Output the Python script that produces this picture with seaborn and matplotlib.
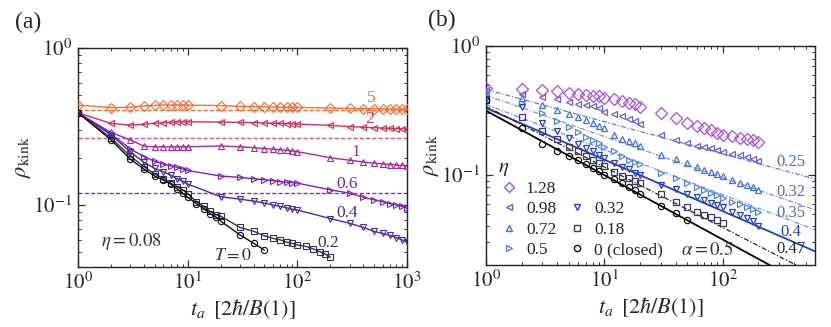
import matplotlib
matplotlib.use("Agg")
import matplotlib.pyplot as plt
import seaborn as sns
import numpy as np
from matplotlib.lines import Line2D
from matplotlib.ticker import LogLocator, NullFormatter, FuncFormatter

# ---------------- panel (a): eta = 0.08, several temperatures ----------------
ta_long = [1, 2, 3, 4, 5, 6, 7, 8, 9, 10, 20, 30, 40, 50, 60, 70, 80, 90, 100,
           200, 300, 400, 500, 600, 700, 800, 900, 1000]
ta_mid = [1, 2, 3, 4, 5, 6, 7, 8, 9, 10, 12, 14, 16, 18, 20, 30, 40, 50, 60, 70,
          80, 90, 100, 120, 140, 160, 180, 200]
ta_short = [1, 2, 3, 4, 5, 6, 7, 8, 9, 10, 12, 14, 16, 18, 20, 30, 40, 50]

rho_T5 = [0.433, 0.418, 0.42, 0.428, 0.432, 0.434, 0.434, 0.434, 0.434, 0.433,
          0.43, 0.425, 0.424, 0.422, 0.421, 0.42, 0.42, 0.419, 0.419,
          0.415, 0.413, 0.411, 0.41, 0.41, 0.409, 0.409, 0.408, 0.408]
rho_T2 = [0.387, 0.331, 0.323, 0.327, 0.332, 0.335, 0.337, 0.338, 0.339, 0.339,
          0.338, 0.336, 0.335, 0.333, 0.332, 0.331, 0.33, 0.329, 0.328,
          0.322, 0.316, 0.313, 0.311, 0.309, 0.308, 0.307, 0.306, 0.305]
rho_T1 = [0.387, 0.29, 0.26, 0.237, 0.235, 0.235, 0.235, 0.235, 0.235, 0.235,
          0.238, 0.235, 0.232, 0.229, 0.227, 0.225, 0.223, 0.221, 0.219,
          0.2, 0.193, 0.188, 0.185, 0.183, 0.181, 0.18, 0.179, 0.178]
rho_T06 = [0.387, 0.283, 0.228, 0.203, 0.19, 0.182, 0.178, 0.174, 0.17, 0.166,
           0.153, 0.15, 0.147, 0.145, 0.143, 0.141, 0.14, 0.139, 0.138,
           0.125, 0.119, 0.112, 0.108, 0.105, 0.102, 0.1, 0.098, 0.0955]
rho_T04 = [0.387, 0.28, 0.218, 0.187, 0.171, 0.163, 0.155, 0.147, 0.142, 0.136,
           0.113, 0.109, 0.106, 0.103, 0.1, 0.098, 0.096, 0.094, 0.093,
           0.082, 0.0765, 0.072, 0.068, 0.066, 0.064, 0.062, 0.06, 0.058]
ta_T02 = [1, 2, 3, 4, 5, 6, 7, 8, 9, 10, 12, 14, 16, 18, 20, 30, 40, 50, 60, 70,
          80, 90, 100, 120, 140, 160, 180, 200]
rho_T02 = [0.387, 0.267, 0.205, 0.175, 0.158, 0.147, 0.138, 0.131, 0.125, 0.118,
           0.105, 0.098, 0.091, 0.087, 0.085, 0.072, 0.068, 0.0637, 0.0613, 0.06,
           0.058, 0.057, 0.0557, 0.0545, 0.0525, 0.0505, 0.0487, 0.0465]
rho_T0 = [0.387, 0.26, 0.196, 0.169, 0.153, 0.144, 0.136, 0.127, 0.119, 0.112,
          0.102, 0.095, 0.088, 0.084, 0.079, 0.0645, 0.057, 0.0517]

T_labels = ["5", "2", "1", "0.6", "0.4", "0.2", r"$T=0$"]
T_colors = ["#ff6a2e", "#dc2d55", "#b0269e", "#7a22c8", "#4a2aa8", "#33335e", "#111111"]
T_markers = ["D", "<", "^", ">", "v", "s", "o"]
T_x = [ta_long, ta_long, ta_long, ta_long, ta_long, ta_T02, ta_short]
T_y = [rho_T5, rho_T2, rho_T1, rho_T06, rho_T04, rho_T02, rho_T0]
# label anchor (data coordinates)
T_label_pos = [(468, 0.478), (460, 0.351), (342, 0.218), (286, 0.137),
               (286, 0.0885), (190, 0.057), (26, 0.048)]

# equilibrium levels (dashed)
eq_levels = [0.402, 0.268, 0.12]
eq_colors = ["#ff6a2e", "#e0558a", "#b0269e"]

# ---------------- panel (b): T = 0, several eta ----------------
rho_e128 = [0.47, 0.462, 0.455, 0.447, 0.43, 0.425, 0.418, 0.412, 0.407, 0.393,
            0.387, 0.372, 0.362, 0.356, 0.338, 0.30, 0.275, 0.254, 0.24, 0.23,
            0.222, 0.211, 0.204, 0.2, 0.195, 0.189, 0.186, 0.181]
rho_e098 = [0.455, 0.425, 0.405, 0.39, 0.37, 0.358, 0.347, 0.34, 0.331, 0.31,
            0.295, 0.284, 0.273, 0.261, 0.247, 0.204, 0.187, 0.176, 0.169, 0.164,
            0.161, 0.157, 0.15, 0.146, 0.142, 0.138, 0.134, 0.129]
rho_e072 = [0.43, 0.393, 0.349, 0.319, 0.297, 0.28, 0.265, 0.253, 0.241, 0.23,
            0.204, 0.19, 0.182, 0.176, 0.168, 0.143, 0.132, 0.123, 0.116, 0.11,
            0.105, 0.102, 0.0988, 0.092, 0.087, 0.083, 0.08, 0.0765]
rho_e05 = [0.41, 0.36, 0.30, 0.262, 0.237, 0.216, 0.198, 0.186, 0.176, 0.166,
           0.152, 0.14, 0.131, 0.126, 0.121, 0.103, 0.094, 0.087, 0.081, 0.077,
           0.073, 0.07, 0.066, 0.062, 0.059, 0.056, 0.054, 0.052]
rho_e032 = [0.39, 0.338, 0.254, 0.219, 0.194, 0.175, 0.161, 0.152, 0.143, 0.135,
            0.124, 0.116, 0.111, 0.104, 0.1, 0.084, 0.078, 0.0715, 0.067, 0.064,
            0.061, 0.058, 0.056, 0.052, 0.049, 0.046, 0.044, 0.0405]
ta_e018 = [1, 2, 3, 4, 5, 6, 7, 8, 9, 10, 12, 14, 16, 18, 20, 30, 40, 50, 60, 70,
           80, 90, 100]
rho_e018 = [0.38, 0.283, 0.219, 0.189, 0.166, 0.152, 0.141, 0.131, 0.124, 0.118,
            0.105, 0.098, 0.094, 0.09, 0.087, 0.0715, 0.062, 0.0565, 0.052, 0.049,
            0.047, 0.0445, 0.042]
rho_e0 = [0.38, 0.23, 0.174, 0.152, 0.14, 0.131, 0.122, 0.113, 0.108, 0.1,
          0.093, 0.0866, 0.081, 0.076, 0.0715, 0.0578, 0.0506, 0.0448]

eta_labels = ["1.28", "0.98", "0.72", "0.5", "0.32", "0.18", "0 (closed)"]
eta_colors = ["#a64df0", "#6a5cf2", "#3f6ff5", "#4c82f7", "#2a3ed6", "#3a3a6a", "#111111"]
eta_markers = ["D", "<", "^", ">", "v", "s", "o"]
eta_x = [ta_mid, ta_mid, ta_mid, ta_mid, ta_mid, ta_e018, ta_short]
eta_y = [rho_e128, rho_e098, rho_e072, rho_e05, rho_e032, rho_e018, rho_e0]

# power-law guides rho = A * t^-alpha
fit_alpha = [0.25, 0.32, 0.35, 0.4, 0.47, 0.5]
fit_amp = [0.46, 0.415, 0.352, 0.33, 0.34, 0.315]
fit_colors = ["#5b7cf5", "#6f8ff7", "#6f8ff7", "#1f3fd0", "#23233f", "#000000"]
fit_styles = [(0, (4, 1.5, 1, 1.5)), (0, (4, 1.5, 1, 1.5)), (0, (4, 1.5, 1, 1.5)),
              "-", (0, (4, 1.5, 1, 1.5)), "-"]
fit_label_pos = [(377, 0.127), (377, 0.0734), (377, 0.0505), (377, 0.0363), (377, 0.0265)]
fit_label_colors = ["#4a68f0", "#4a68f0", "#4a68f0", "#1f3fd0", "#23233f"]

sns.set_style("ticks")
plt.rcParams["font.family"] = ["Liberation Serif", "DejaVu Serif"]
plt.rcParams["mathtext.fontset"] = "stix"
plt.rcParams["font.size"] = 12
plt.rcParams["axes.linewidth"] = 1.0

fig = plt.figure(figsize=(8.31, 3.27), dpi=100)
axA = fig.add_axes([0.0939, 0.1835, 0.3959, 0.6695])
axB = fig.add_axes([0.5848, 0.1896, 0.3959, 0.6697])

pow10 = FuncFormatter(lambda v, p: r"$10^{%d}$" % int(round(np.log10(v))))


def style_log(ax, xlim, ylim):
    ax.set_xscale("log")
    ax.set_yscale("log")
    ax.set_xlim(*xlim)
    ax.set_ylim(*ylim)
    ax.xaxis.set_major_locator(LogLocator(base=10, numticks=10))
    ax.xaxis.set_minor_locator(LogLocator(base=10, subs=np.arange(2, 10), numticks=20))
    ax.yaxis.set_major_locator(LogLocator(base=10, numticks=10))
    ax.yaxis.set_minor_locator(LogLocator(base=10, subs=np.arange(2, 10), numticks=20))
    ax.xaxis.set_major_formatter(pow10)
    ax.yaxis.set_major_formatter(pow10)
    ax.xaxis.set_minor_formatter(NullFormatter())
    ax.yaxis.set_minor_formatter(NullFormatter())
    ax.tick_params(which="both", direction="in", top=True, right=True, labelsize=15,
                   color="#333333")
    ax.tick_params(which="major", length=5, width=0.9, pad=4)
    ax.tick_params(which="minor", length=2.5, width=0.7)
    ax.set_xlabel(r"$t_a\ \,[2\hbar/B(1)]$", fontsize=16, labelpad=2)
    ax.set_ylabel(r"$\rho_{\rm kink}$", fontsize=16, labelpad=0)
    for s in ax.spines.values():
        s.set_color("#222222")


# ---- panel (a) ----
for lvl, c in zip(eq_levels, eq_colors):
    axA.axhline(lvl, color=c, ls=(0, (3, 1.5)), lw=1.0, zorder=1)

for x, y, c, m in zip(T_x, T_y, T_colors, T_markers):
    ms = 5.5 if m == "D" else 4.5
    sns.lineplot(x=x, y=y, ax=axA, color=c, lw=1.0, marker=m, markersize=ms,
                 markerfacecolor="none", markeredgecolor=c, markeredgewidth=0.8,
                 estimator=None, sort=False, zorder=3)

for lab, (px, py), c in zip(T_labels, T_label_pos, T_colors):
    axA.text(px, py, lab, color=c if c != "#111111" else "#333333",
             fontsize=13 if c == "#111111" else 12.5, ha="center", va="center")
axA.text(3.07, 0.0584, r"$\eta=0.08$", fontsize=13.5, ha="center", va="center", color="#333333")
style_log(axA, (1, 1000), (0.0403, 1))

# ---- panel (b) ----
t_fit = np.array([1.0, 1000.0])
for a, A, c, ls in zip(fit_alpha, fit_amp, fit_colors, fit_styles):
    sns.lineplot(x=t_fit, y=A * t_fit ** (-a), ax=axB, color=c, ls=ls,
                 lw=1.3 if ls == "-" else 0.9, zorder=2)

for x, y, c, m in zip(eta_x, eta_y, eta_colors, eta_markers):
    ms = 6 if m == "D" else 4.5
    axB.plot(x, y, ls="none", marker=m, markersize=ms, markerfacecolor="none",
             markeredgecolor=c, markeredgewidth=0.9, zorder=3)

for a, (px, py), c in zip(fit_alpha[:5], fit_label_pos, fit_label_colors):
    axB.text(px, py, f"{a:g}", color=c, fontsize=12, ha="center", va="center")
axB.text(74, 0.0262, r"$\alpha=0.5$", fontsize=13.5, ha="center", va="center", color="#333333")

handles = []
labels = []
order = [0, 1, 2, 3, None, 4, 5, 6]
for i in order:
    if i is None:
        handles.append(Line2D([], [], ls="none", marker=None))
        labels.append("")
    else:
        ms = 5.5 if eta_markers[i] == "D" else 4.5
        handles.append(Line2D([], [], ls="none", marker=eta_markers[i], markersize=ms,
                              markerfacecolor="none", markeredgecolor=eta_colors[i],
                              markeredgewidth=1.0))
        labels.append(eta_labels[i])
leg = axB.legend(handles, labels, ncol=2, loc="lower left", bbox_to_anchor=(0.0, -0.025),
                 frameon=False, title=r"$\eta$", title_fontsize=15, fontsize=12.5,
                 handletextpad=0.4, columnspacing=0.6, labelspacing=0.25,
                 handlelength=1.2, alignment="left", borderaxespad=0.3)
leg._legend_box.sep = 2
style_log(axB, (1, 600), (0.02, 1))

fig.text(0.018, 0.915, "(a)", fontsize=17)
fig.text(0.515, 0.92, "(b)", fontsize=17)

fig.savefig("out.png", dpi=100)
